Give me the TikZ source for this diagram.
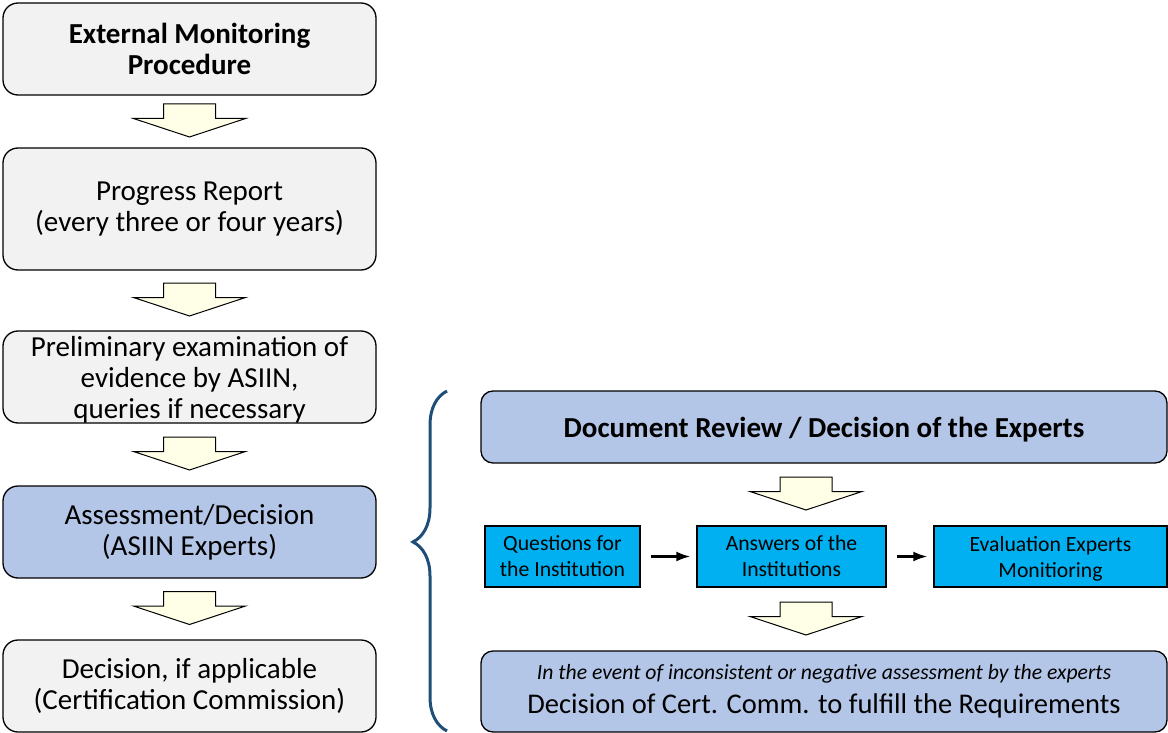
\documentclass[tikz,border=0pt]{standalone}
\usepackage{fontspec}
\setmainfont{Carlito}
\usetikzlibrary{calc,arrows.meta,decorations.pathreplacing}
\definecolor{boxgray}{RGB}{242,242,242}
\definecolor{boxblue}{RGB}{180,198,231}
\definecolor{boxcyan}{RGB}{0,176,240}
\definecolor{arrowyellow}{RGB}{255,255,232}
\definecolor{bracecol}{RGB}{31,78,121}
\newcommand{\nodepth}[1]{\raisebox{0pt}[\height][0pt]{#1}}
\tikzset{
  leftbox/.style={draw=black, line width=1.3pt, rounded corners=15pt, fill=boxgray,
    minimum width=373pt, align=center, font=\fontsize{29}{31}\selectfont, inner sep=0pt},
  rightbox/.style={draw=black, line width=1.3pt, rounded corners=12pt, fill=boxblue,
    minimum width=686pt, align=center, inner sep=0pt},
  cyanbox/.style={draw=black, line width=1.3pt, fill=boxcyan, minimum height=61pt,
    align=center, font=\fontsize{21.7}{26}\selectfont, inner sep=0pt},
  blockarrow/.pic={
    \draw[fill=arrowyellow, draw=black, line width=1pt, line join=miter]
      (-26,-16.5) -- (26,-16.5) -- (26,-2) -- (56,-2) -- (0,16.5) -- (-56,-2) -- (-26,-2) -- cycle;
  },
  smallarrow/.style={-{Latex[length=14pt,width=10pt]}, line width=2.2pt, shorten <=10pt, shorten >=6pt},
}
\begin{document}
\begin{tikzpicture}[x=1pt,y=-1pt]
\useasboundingbox (0,0) rectangle (1168,733);

% left column
\node[leftbox, minimum height=92pt] (ext) at (189.5,49) {\bfseries External Monitoring\\\bfseries Procedure};
\node[leftbox, minimum height=122pt] (prog) at (189.5,209) {Progress Report\\(every three or four years)};
\node[leftbox, minimum height=92pt] (prel) at (189.5,377) {Preliminary examination of\\evidence by ASIIN,\\\nodepth{queries if necessary}};
\node[leftbox, minimum height=92pt, fill=boxblue] (assess) at (189.5,532) {Assessment/Decision\\(ASIIN Experts)};
\node[leftbox, minimum height=92pt] (dec) at (189.5,686) {Decision, if applicable\\(Certification Commission)};

\pic at ($(ext.south)!0.5!(prog.north)+(0,-1)$) {blockarrow};
\pic at ($(prog.south)!0.5!(prel.north)+(0,-1)$) {blockarrow};
\pic at ($(prel.south)!0.5!(assess.north)+(0,-1)$) {blockarrow};
\pic at ($(assess.south)!0.5!(dec.north)+(0,-1)$) {blockarrow};

% brace
\draw[bracecol, line width=3pt, decorate, decoration={brace, amplitude=34pt, aspect=0.556}]
  (447,731) -- (447,391);

% right column
\node[rightbox, minimum height=72pt, font=\fontsize{29}{31}\selectfont\bfseries] (review) at (824,427) {\nodepth{Document Review / Decision of the Experts}};
\node[cyanbox, minimum width=155pt] (quest) at (562.5,556.5) {Questions for\\the Institution};
\node[cyanbox, minimum width=189pt] (answ) at (791.5,556.5) {Answers of the\\Institutions};
\node[cyanbox, minimum width=233pt] (eval) at (1050.5,556.5) {Evaluation Experts\\\nodepth{Monitioring}};
\node[rightbox, minimum height=81pt, font=\fontsize{28.5}{31}\selectfont] (final) at (824,691.5)
  {{\fontsize{21.7}{26}\selectfont\itshape In the event of inconsistent or negative assessment by the experts}\\[3pt]
   Decision of Cert. Comm. to fulfill the Requirements};

\draw[smallarrow] (quest) -- (answ);
\draw[smallarrow] (answ) -- (eval);

\pic at (806,493.5) {blockarrow};
\pic at (806,618.5) {blockarrow};
\end{tikzpicture}
\end{document}
